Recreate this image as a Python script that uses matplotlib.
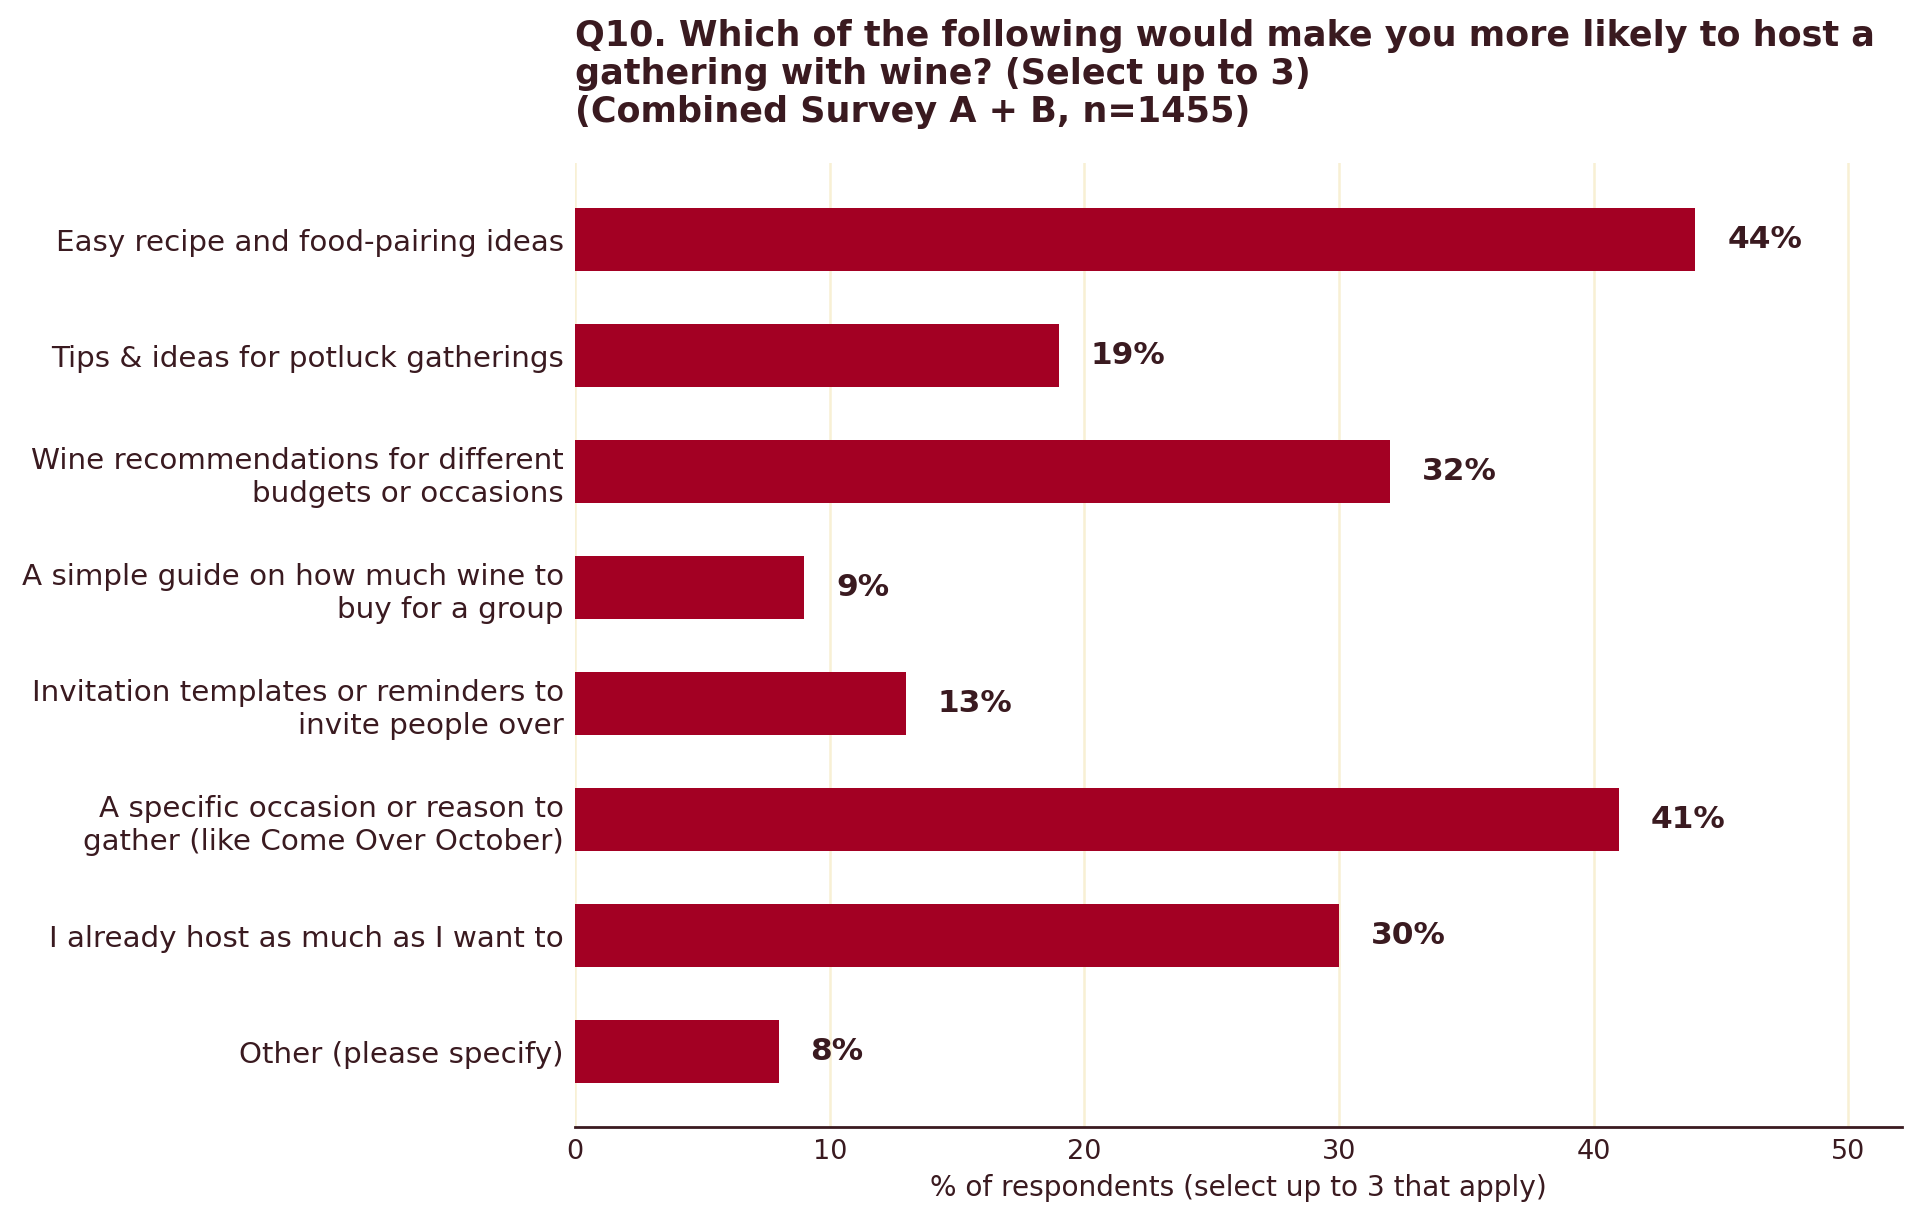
import numpy as np
import matplotlib.pyplot as plt

# ============================================================
# DATA
# ============================================================

categories = [
    'Easy recipe and food-pairing ideas',
    'Tips & ideas for potluck gatherings',
    'Wine recommendations for different\nbudgets or occasions',
    'A simple guide on how much wine to\nbuy for a group',
    'Invitation templates or reminders to\ninvite people over',
    'A specific occasion or reason to\ngather (like Come Over October)',
    'I already host as much as I want to',
    'Other (please specify)',
]
values = [44, 19, 32, 9, 13, 41, 30, 8]
xticks = [0, 10, 20, 30, 40, 50]

title = ('Q10. Which of the following would make you more likely to host a\n'
         'gathering with wine? (Select up to 3)\n'
         '(Combined Survey A + B, n=1455)')
xlabel = '% of respondents (select up to 3 that apply)'

bar_color = '#a30023'
text_color = '#3a1a20'
grid_color = '#f8f0d4'

# ============================================================
# PLOT
# ============================================================

fig = plt.figure(figsize=(19.2, 12.21), dpi=100)
ax = fig.add_axes([0.2995, 0.077, 0.691, 0.7895])

y = np.arange(len(categories))
ax.barh(y, values, height=0.55, color=bar_color, zorder=3)

for yi, v in zip(y, values):
    ax.text(v + 1.25, yi, f'{v}%', ha='left', va='center',
            fontsize=22.5, fontweight='bold', color=text_color, zorder=4)

ax.set_yticks(y)
ax.set_yticklabels(categories, fontsize=21.2, color=text_color, linespacing=1.25)
ax.set_ylim(len(categories) - 0.35, -0.66)

ax.set_xticks(xticks)
ax.set_xticklabels([str(t) for t in xticks], fontsize=19.5, color=text_color)
ax.set_xlim(0, 52.1)
ax.set_xlabel(xlabel, fontsize=20.2, color=text_color, labelpad=6)

ax.tick_params(axis='y', length=0, pad=8)
ax.tick_params(axis='x', length=0, pad=9)

ax.grid(axis='x', color=grid_color, linewidth=1.8, zorder=0)
ax.set_axisbelow(True)

for s in ['top', 'right', 'left']:
    ax.spines[s].set_visible(False)
ax.spines['bottom'].set_color(text_color)
ax.spines['bottom'].set_linewidth(2)

fig.text(0.2995, 1 - 19 / 1221, title, ha='left', va='top',
         fontsize=25.2, fontweight='bold', color=text_color, linespacing=1.14)

fig.savefig('out.png', dpi=100, facecolor='white')
